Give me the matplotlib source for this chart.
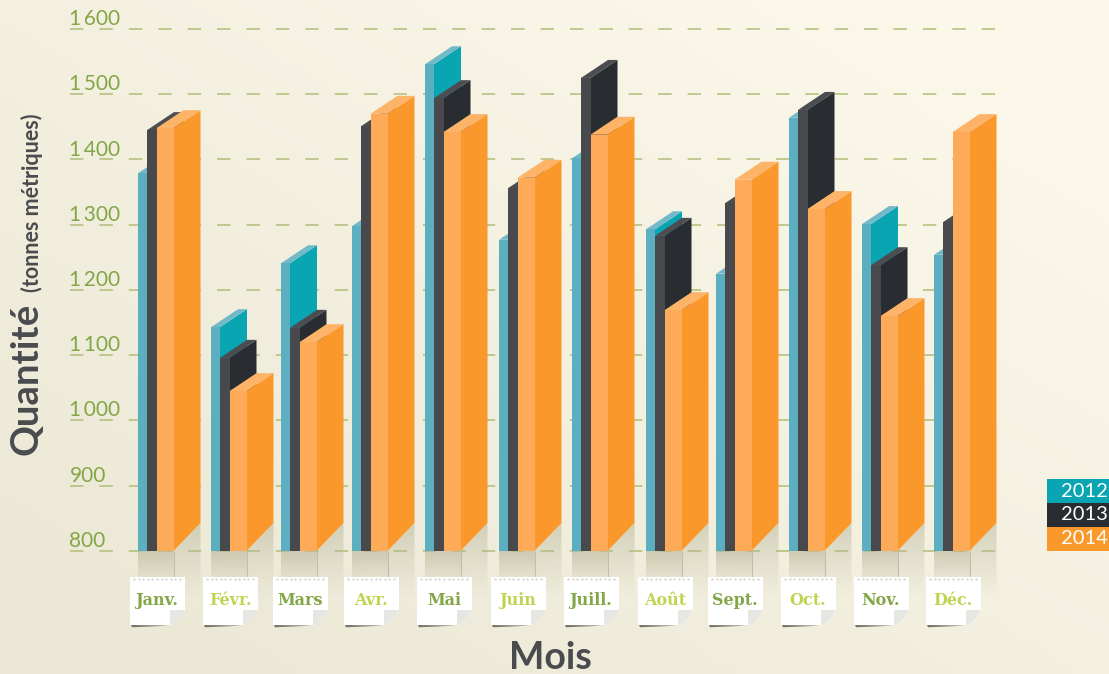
import numpy as np
import matplotlib
matplotlib.use("Agg")
import matplotlib.pyplot as plt
from matplotlib.patches import Polygon, Rectangle
from matplotlib.colors import LinearSegmentedColormap, to_rgb

# ── data ────────────────────────────────────────────────────────────────────
months = ["Janv.", "Févr.", "Mars", "Avr.", "Mai", "Juin",
          "Juill.", "Août", "Sept.", "Oct.", "Nov.", "Déc."]
q2012 = [1379, 1143, 1241, 1298, 1546, 1277, 1402, 1293, 1225, 1464, 1301, 1254]
q2013 = [1445, 1096, 1142, 1451, 1494, 1356, 1525, 1283, 1333, 1476, 1238, 1304]
q2014 = [1448, 1045, 1120, 1470, 1442, 1372, 1438, 1169, 1369, 1324, 1160, 1442]
years = ["2012", "2013", "2014"]
y_ticks = [800, 900, 1000, 1100, 1200, 1300, 1400, 1500, 1600]
y_labels = ["800", "900", "1\u2009000", "1\u2009100", "1\u2009200", "1\u2009300",
            "1\u2009400", "1\u2009500", "1\u2009600"]

# ── layout (x axis is in pixels, y axis in tonnes) ──────────────────────────
W, H = 1109, 674
PX = 0.6525                      # pixels per tonne
BASE = 800
month_x = [138, 211, 281, 352, 425, 499, 572, 646, 716, 789, 862, 934]
widths = [9, 9.5, 17]
DX, DY = 27, 18 / PX
DY_FOOT = 28 / PX                # the bar's foot runs steeper than its top

FRONT = ["#5bafc0", "#48494d", "#fdab59"]
SIDE = ["#0aa5b3", "#292d31", "#fa982b"]
TOP = ["#72bac8", "#4c4d51", "#fdb468"]
GREEN = "#83a646"
LIME = "#bcd651"
GREY = "#4a4b4f"

fig = plt.figure(figsize=(W / 100, H / 100), dpi=100)
ax = fig.add_axes([0, 0, 1, 1])
ymin = BASE - (H - 551) / PX
ymax = BASE + 551 / PX
ax.set_xlim(0, W)
ax.set_ylim(ymin, ymax)
ax.set_autoscale_on(False)
for s in ax.spines.values():
    s.set_visible(False)
ax.set_xticks([])

# ── background ──────────────────────────────────────────────────────────────
gx, gy = np.meshgrid(np.linspace(0, 1, 220), np.linspace(0, 1, 140))
t = np.clip(0.62 * gx + 0.62 * gy - 0.1, 0, 1)
c0, c1 = np.array(to_rgb("#ece8d6")), np.array(to_rgb("#fbf8ea"))
bg = c0 + (c1 - c0) * t[..., None]
ax.imshow(bg, extent=[0, W, ymin, ymax], origin="lower", aspect="auto", zorder=0)

# ── grid ────────────────────────────────────────────────────────────────────
ax.hlines(y_ticks, 70, 998, color="#b0bd78", lw=1.1,
          linestyle=(0, (8.8, 10.45)), zorder=1)
ax.set_yticks(y_ticks, y_labels)
ax.tick_params(axis="y", length=0, pad=-50)
for lab in ax.get_yticklabels():
    lab.set_ha("left")
    lab.set_va("bottom")
    lab.set_family("Lato")
    lab.set_fontsize(15)
    lab.set_color(GREEN)
ax.yaxis.set_zorder(6)

# ── floor shadows ───────────────────────────────────────────────────────────
shade = LinearSegmentedColormap.from_list(
    "shade", [(0.72, 0.71, 0.60, 0.62), (0.72, 0.71, 0.60, 0.0)])
fade = np.linspace(0, 1, 64).reshape(-1, 1)

for x0 in month_x:
    xf = x0 + sum(widths)
    front = ax.imshow(fade, cmap=shade, extent=[x0, xf, BASE, BASE - 62],
                      aspect="auto", zorder=2, origin="lower")
    front.set_clip_path(Rectangle((x0, BASE - 62), xf - x0, 62,
                                  transform=ax.transData))
    side = ax.imshow(fade, cmap=shade, extent=[xf, xf + DX, BASE + DY_FOOT, BASE - 70],
                     aspect="auto", zorder=2, origin="lower", vmin=-0.2, vmax=1)
    side.set_clip_path(Polygon([(xf, BASE), (xf + DX, BASE + DY_FOOT),
                                (xf + DX, BASE - 70), (xf, BASE - 70)],
                               transform=ax.transData))
    ax.vlines(xf, BASE - 40, BASE, color="#c0bfae", lw=0.8, zorder=2)


# ── 3D bars ─────────────────────────────────────────────────────────────────
def bar3d(x, w, v, k):
    ax.add_patch(Polygon([(x + w, BASE), (x + w + DX, BASE + DY_FOOT),
                          (x + w + DX, v + DY), (x + w, v)],
                         fc=SIDE[k], ec="none", zorder=3 + k))
    ax.add_patch(Polygon([(x, v), (x + DX, v + DY), (x + w + DX, v + DY), (x + w, v)],
                         fc=TOP[k], ec="none", zorder=3 + k))
    ax.add_patch(Rectangle((x, BASE), w, v - BASE, fc=FRONT[k], ec="none",
                           zorder=3 + k))


for i, x0 in enumerate(month_x):
    x = x0
    for k, series in enumerate([q2012, q2013, q2014]):
        bar3d(x, widths[k], series[i], k)
        x += widths[k]


# ── paper notes with month names ────────────────────────────────────────────
def note(x, label, color):
    w, top, bot = 55, BASE - 26 / PX, BASE - 74 / PX
    fold = 15
    cut = 15 / PX
    # curled corner, from the bottom edge up to the right edge
    s = np.linspace(0, 1, 12)
    curl_x = (x + w - fold) + fold * s
    curl_y = bot + cut * s ** 1.7
    outline = [(x, top), (x + w, top)] + list(zip(curl_x[::-1], curl_y[::-1])) + [(x, bot)]
    ax.add_patch(Polygon([(x + 1, bot), (x + w - 16, bot - 1), (x + 2, bot - 3.5)],
                         fc="#77756a", ec="none", zorder=7))
    ax.add_patch(Polygon(outline, fc="white", ec="none", zorder=8))
    flap = [(x + w - fold, bot + cut), (x + w, bot + cut)] + list(zip(curl_x[::-1], curl_y[::-1]))
    ax.add_patch(Polygon(flap, fc="#e6e6e2", ec="none", zorder=9))
    ax.plot(np.arange(x + 4, x + w - 2, 4.6), np.full(11, top - 2.6), ls="none",
            marker=".", ms=1.6, color="#dcdcd6", zorder=9)
    ax.text(x + 27, (top + bot) / 2 + 1.5, label, ha="center", va="center",
            family="DejaVu Serif", weight="bold", fontsize=11.5, color=color, zorder=10)


for i, x0 in enumerate(month_x):
    note(x0 - 8, months[i], LIME if i % 2 else GREEN)

# ── axis titles ─────────────────────────────────────────────────────────────
ax.text(27, BASE - (379 - 551) / PX, "Quantité", rotation=90, ha="center", va="center",
        family="Lato", weight="bold", fontsize=27.5, color=GREY, zorder=10)
ax.text(32, BASE - (203 - 551) / PX, "(tonnes métriques)", rotation=90, ha="center",
        va="center", family="Lato", weight="bold", fontsize=15.5, color=GREY, zorder=10)
ax.text(550, BASE - (658 - 551) / PX, "Mois", ha="center", va="center",
        family="Lato", weight="bold", fontsize=27, color=GREY, zorder=10)

# ── legend ──────────────────────────────────────────────────────────────────
for k, yr in enumerate(years):
    y_top = BASE + (72 - 24 * k) / PX
    ax.add_patch(Rectangle((1047, y_top - 24 / PX), 62, 24 / PX, fc=SIDE[k], ec="none",
                           zorder=3))
    ax.text(1084, y_top - 12 / PX, yr, ha="center", va="center", family="Lato",
            fontsize=14.5, color="white", zorder=4)

fig.savefig("out.png", dpi=100)
